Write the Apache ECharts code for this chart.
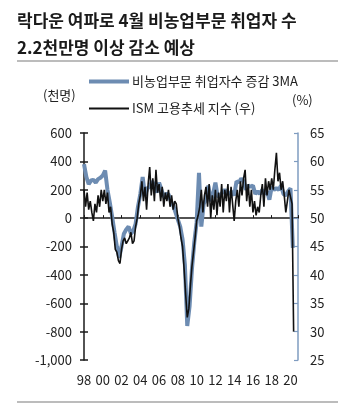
<!DOCTYPE html>
<html><head><meta charset="utf-8">
<script src="https://cdn.jsdelivr.net/npm/echarts@6/dist/echarts.min.js"></script>
<style>html,body{margin:0;padding:0;background:#fff}#c{width:352px;height:404px}</style>
</head><body><div id="c"></div>
<script>
const titleLines = ['락다운 여파로 4월 비농업부문 취업자 수', '2.2천만명 이상 감소 예상'];
const seriesNames = ['비농업부문 취업자수 증감 3MA', 'ISM 고용추세 지수 (우)'];
const leftUnit = '(천명)';
const rightUnit = '(%)';
const xMin = 1998, xMax = 2020.8, xInterval = 2;
const leftMin = -1000, leftMax = 600, leftInterval = 200;
const rightMin = 25, rightMax = 65, rightInterval = 5;

// Nonfarm payroll change, 3MA (thousands), quarterly readings from 1998 Q1
const payrollStart = 1998, payrollStep = 0.25;
const payroll = [
  380, 290, 240, 265,
  270, 250, 275, 285,
  300, 335, 200, 110,
  10, -100, -200, -280,
  -200, -110, -80, -60,
  -110, -90, -40, 80,
  170, 290, 160, 210,
  220, 260, 230, 180,
  250, 200, 150, 170,
  170, 120, 90, 40,
  -10, -60, -150, -330,
  -760, -620, -360, -170,
  -30, 320, -60, 100,
  130, 230, 120, 170,
  250, 150, 160, 180,
  200, 180, 170, 190,
  160, 260, 250, 280,
  260, 200, 230, 220,
  230, 170, 190, 170,
  200, 170, 190, 130,
  220, 200, 210, 200,
  230, 170, 160, 190,
  210, -210
];

// ISM employment index (%), bimonthly readings from 1998 Jan
const ismStart = 1998, ismStep = 1 / 6;
const ism = [
  55, 52, 54.5, 51.5, 53, 51,
  49.5, 52.5, 51, 54, 52, 55,
  53, 55, 52.5, 54.5, 51, 52,
  49, 47.5, 44.5, 44, 42.5, 42,
  44.5, 46, 46.5, 45.5, 46, 46.5,
  47.5, 45.5, 46, 48.5, 50, 52.5,
  54, 56.5, 53, 55.5, 51.5, 56,
  59, 54, 57, 53, 58.5, 54.5,
  56, 53, 55.5, 52, 54.5, 53,
  55, 52, 54, 51.5, 53, 52.5,
  50, 48.5, 46.5, 45, 41, 36.5,
  32.5, 34, 38, 41.5, 44, 46.5,
  49.5, 50.5, 52, 55, 51, 54,
  55.5, 52, 56, 50, 54, 51.5,
  55, 50.5, 54.5, 52, 56, 51,
  55, 53, 56, 51, 55.5, 52.5,
  49.5, 53, 55, 52, 56.5, 54,
  57, 58.5, 53, 56, 52, 55,
  51, 53, 50.5, 52, 51, 54,
  56, 52, 57, 54, 56.5, 55,
  57, 55, 58.5, 61.5, 56.5, 58,
  55, 56.5, 54, 51, 53, 55,
  55, 52.5, 30
];

const blueColor = '#6d8cb2';
const rightAxisColor = '#7f9cc0';
const inkColor = '#1a1a1a';
const font = '"Noto Sans CJK KR", "Noto Sans", sans-serif';

const payrollData = payroll.map((v, i) => [payrollStart + i * payrollStep, v]);
const ismData = ism.map((v, i) => [ismStart + i * ismStep, v]);

const yearLabel = v => (Math.abs(v - Math.round(v)) < 1e-6 ? String(Math.round(v)).slice(2) : '');

const chart = echarts.init(document.getElementById('c'), null, { renderer: 'canvas' });
chart.setOption({
  animation: false,
  backgroundColor: '#fff',
  textStyle: { fontFamily: font },
  grid: { left: 84, right: 54, top: 133, bottom: 44 },
  graphic: [
    { type: 'text', left: 17, top: 7, style: { text: titleLines.join('\n'), font: 'bold 17px ' + font, lineHeight: 27, fill: inkColor } },
    { type: 'line', shape: { x1: 17, y1: 61, x2: 338, y2: 61 }, style: { stroke: '#a6a6a6', lineWidth: 1.5 } },
    { type: 'line', shape: { x1: 17, y1: 402, x2: 338, y2: 402 }, style: { stroke: '#a6a6a6', lineWidth: 1.5 } },
    { type: 'text', left: 43, top: 89, style: { text: leftUnit, font: '13px ' + font, fill: '#222' } },
    { type: 'text', left: 292, top: 94, style: { text: rightUnit, font: '13px ' + font, fill: '#222' } }
  ],
  legend: {
    left: 84, top: 70, orient: 'vertical', itemWidth: 40, itemHeight: 14, itemGap: 14,
    symbolKeepAspect: true,
    textStyle: { fontSize: 13, color: '#222', fontFamily: font, padding: [0, 0, 0, -2] },
    data: [
      { name: seriesNames[0], icon: 'path://M0,0H40V4H0Z' },
      { name: seriesNames[1], icon: 'path://M0,0H40V1.8H0Z' }
    ]
  },
  xAxis: [
    {
      type: 'value', min: xMin, max: xMax, interval: xInterval,
      axisLine: { onZero: true, onZeroAxisIndex: 0, lineStyle: { color: inkColor, width: 1.5 } },
      axisTick: { show: true, inside: true, length: 3, lineStyle: { color: inkColor } },
      axisLabel: { show: false }, splitLine: { show: false }
    },
    {
      type: 'value', min: xMin, max: xMax, interval: xInterval, position: 'bottom',
      axisLine: { show: false }, axisTick: { show: false }, splitLine: { show: false },
      axisLabel: { show: true, margin: 14, fontSize: 13, color: '#222', formatter: yearLabel, showMaxLabel: false }
    }
  ],
  yAxis: [
    {
      type: 'value', position: 'left', min: leftMin, max: leftMax, interval: leftInterval,
      axisLine: { show: true, lineStyle: { color: inkColor, width: 1.5 } },
      axisTick: { show: true, length: 4, lineStyle: { color: inkColor, width: 1.5 } },
      axisLabel: { margin: 12, fontSize: 13, color: '#222', formatter: v => v.toLocaleString('en-US') },
      splitLine: { show: false }
    },
    {
      type: 'value', position: 'right', min: rightMin, max: rightMax, interval: rightInterval,
      axisLine: { show: true, lineStyle: { color: rightAxisColor, width: 1.5 } },
      axisTick: { show: true, inside: true, length: 4, lineStyle: { color: rightAxisColor, width: 1.2 } },
      axisLabel: { margin: 12, fontSize: 13, color: '#222' },
      splitLine: { show: false }
    },
    {
      type: 'value', position: 'left', min: leftMin, max: leftMax, interval: leftInterval,
      axisLine: { show: false },
      axisTick: { show: true, inside: true, length: 4, lineStyle: { color: inkColor, width: 1.5 } },
      axisLabel: { show: false }, splitLine: { show: false }
    }
  ],
  series: [
    {
      name: seriesNames[0], type: 'line', xAxisIndex: 0, yAxisIndex: 0, data: payrollData,
      symbol: 'none', lineStyle: { color: blueColor, width: 4 }, itemStyle: { color: blueColor }, z: 2
    },
    {
      name: seriesNames[1], type: 'line', xAxisIndex: 0, yAxisIndex: 1, data: ismData,
      symbol: 'none', lineStyle: { color: '#111', width: 1.6 }, itemStyle: { color: '#111' }, z: 3
    }
  ]
});
</script>
</body></html>
